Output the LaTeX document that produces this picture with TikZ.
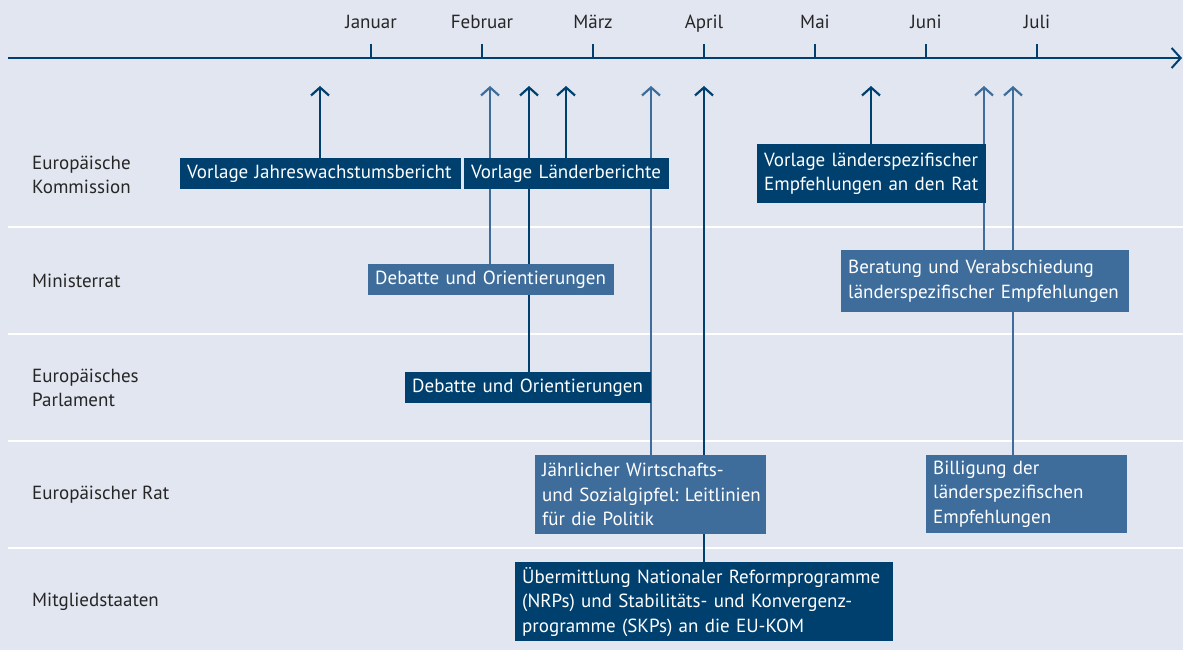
\documentclass[tikz,border=0pt]{standalone}
\usepackage{fontspec}
\setmainfont{PT Sans}
\usetikzlibrary{arrows.meta}
\definecolor{dk}{HTML}{00406F}
\definecolor{md}{HTML}{3E6D9C}
\definecolor{bgc}{HTML}{E1E6F0}
\definecolor{txt}{HTML}{262626}
\pgfdeclarelayer{back}
\pgfdeclarelayer{lines}
\pgfsetlayers{back,lines,main}
\frenchspacing
\tikzset{
  box/.style={anchor=north west, inner xsep=7pt, inner ysep=0pt, align=left, text=white},
  dbox/.style={box, fill=dk},
  mbox/.style={box, fill=md},
  rowlab/.style={anchor=west, align=left, text=txt, inner xsep=0pt},
  monlab/.style={text=txt, anchor=base},
  arrd/.style={draw=dk, line width=2.2pt, -{Straight Barb[length=8pt,width=18pt,line width=2.2pt]}},
  arrm/.style={draw=md, line width=2.2pt, -{Straight Barb[length=8pt,width=18pt,line width=2.2pt]}},
  sep/.style={draw=white, line width=1.5pt},
  tick/.style={draw=dk, line width=1.5pt},
}
\begin{document}
\begin{tikzpicture}[x=1pt,y=-1pt,font=\fontsize{19}{24.5}\selectfont]
\begin{pgfonlayer}{back}
\fill[bgc] (0,0) rectangle (1183,650);
\end{pgfonlayer}
\useasboundingbox (0,0) rectangle (1183,650);

% separators
\coordinate (s1a) at (8,227); \coordinate (s1b) at (1183,227);
\coordinate (s2a) at (8,334); \coordinate (s2b) at (1183,334);
\coordinate (s3a) at (8,441); \coordinate (s3b) at (1183,441);
\coordinate (s4a) at (8,548); \coordinate (s4b) at (1183,548);
\begin{pgfonlayer}{back}
\draw[sep] (s1a) -- (s1b);
\draw[sep] (s2a) -- (s2b);
\draw[sep] (s3a) -- (s3b);
\draw[sep] (s4a) -- (s4b);
\end{pgfonlayer}

% axis
\coordinate (ax0) at (8,58);
\coordinate (ax1) at (1182,58);
\draw[draw=dk, line width=2.5pt, -{Straight Barb[length=9pt,width=20pt,line width=2pt]}] (ax0) -- (ax1);
\foreach \n/\x/\t in {jan/371/Januar, feb/482/Februar, mar/593/März, apr/704/April, mai/815/Mai, jun/926/Juni, jul/1037/Juli}{
  \coordinate (k\n) at (\x,44);
  \coordinate (b\n) at (\x,58);
  \draw[tick] (k\n) -- (b\n);
  \node[monlab] (m\n) at (\x,29) {\t};
}

% row labels
\node[rowlab] (r1) at (32,175) {Europäische\\Kommission};
\node[rowlab] (r2) at (32,281) {Ministerrat};
\node[rowlab] (r3) at (32,388) {Europäisches\\Parlament};
\node[rowlab] (r4) at (32,495) {Europäischer Rat};
\node[rowlab] (r5) at (32,602) {Mitgliedstaaten};

% boxes
\node[dbox, minimum width=281pt, minimum height=31pt, text width=267pt] (b1) at (180,158) {Vorlage Jahreswachstumsbericht};
\node[dbox, minimum width=205pt, minimum height=31pt, text width=191pt] (b2) at (464,158) {Vorlage Länderberichte};
\node[dbox, minimum width=229pt, minimum height=59pt, text width=215pt] (b3) at (757,144) {Vorlage länderspezifischer\\Empfehlungen an den Rat};
\node[mbox, minimum width=246pt, minimum height=31pt, text width=232pt] (b4) at (368,264) {Debatte und Orientierungen};
\node[mbox, minimum width=288pt, minimum height=62pt, text width=274pt] (b5) at (841,250) {Beratung und Verabschiedung\\länderspezifischer Empfehlungen};
\node[dbox, minimum width=246pt, minimum height=31pt, text width=232pt] (b6) at (405,372) {Debatte und Orientierungen};
\node[mbox, minimum width=231pt, minimum height=79pt, text width=217pt] (b7) at (535,455) {\mbox{Jährlicher Wirtschafts-}\\\mbox{und Sozialgipfel: Leitlinien}\\\mbox{für die Politik}};
\node[mbox, minimum width=201pt, minimum height=78pt, text width=187pt] (b8) at (926,455) {Billigung der\\länderspezifischen\\Empfehlungen};
\node[dbox, minimum width=378pt, minimum height=79pt, text width=364pt] (b9) at (515,562) {\mbox{Übermittlung Nationaler Reformprogramme}\\\mbox{(NRPs) und Stabilitäts- und Konvergenz-}\\\mbox{programme (SKPs) an die EU-KOM}};

% arrow tips
\coordinate (t1) at (320,86);
\coordinate (t2) at (490,86);
\coordinate (t3) at (529,86);
\coordinate (t4) at (566,86);
\coordinate (t5) at (651,86);
\coordinate (t6) at (704,86);
\coordinate (t7) at (871,86);
\coordinate (t8) at (984,86);
\coordinate (t9) at (1013,86);

\begin{pgfonlayer}{lines}
\draw[arrd] (b1.north -| t1) -- (t1);
\draw[arrm] (b4.north -| t2) -- (t2);
\draw[arrd] (b6.north -| t3) -- (t3);
\draw[arrd] (b2.north -| t4) -- (t4);
\draw[arrm] (b7.north -| t5) -- (t5);
\draw[arrd] (b9.north -| t6) -- (t6);
\draw[arrd] (b3.north -| t7) -- (t7);
\draw[arrm] (b5.north -| t8) -- (t8);
\draw[arrm] (b8.north -| t9) -- (t9);
\end{pgfonlayer}
\end{tikzpicture}
\end{document}
